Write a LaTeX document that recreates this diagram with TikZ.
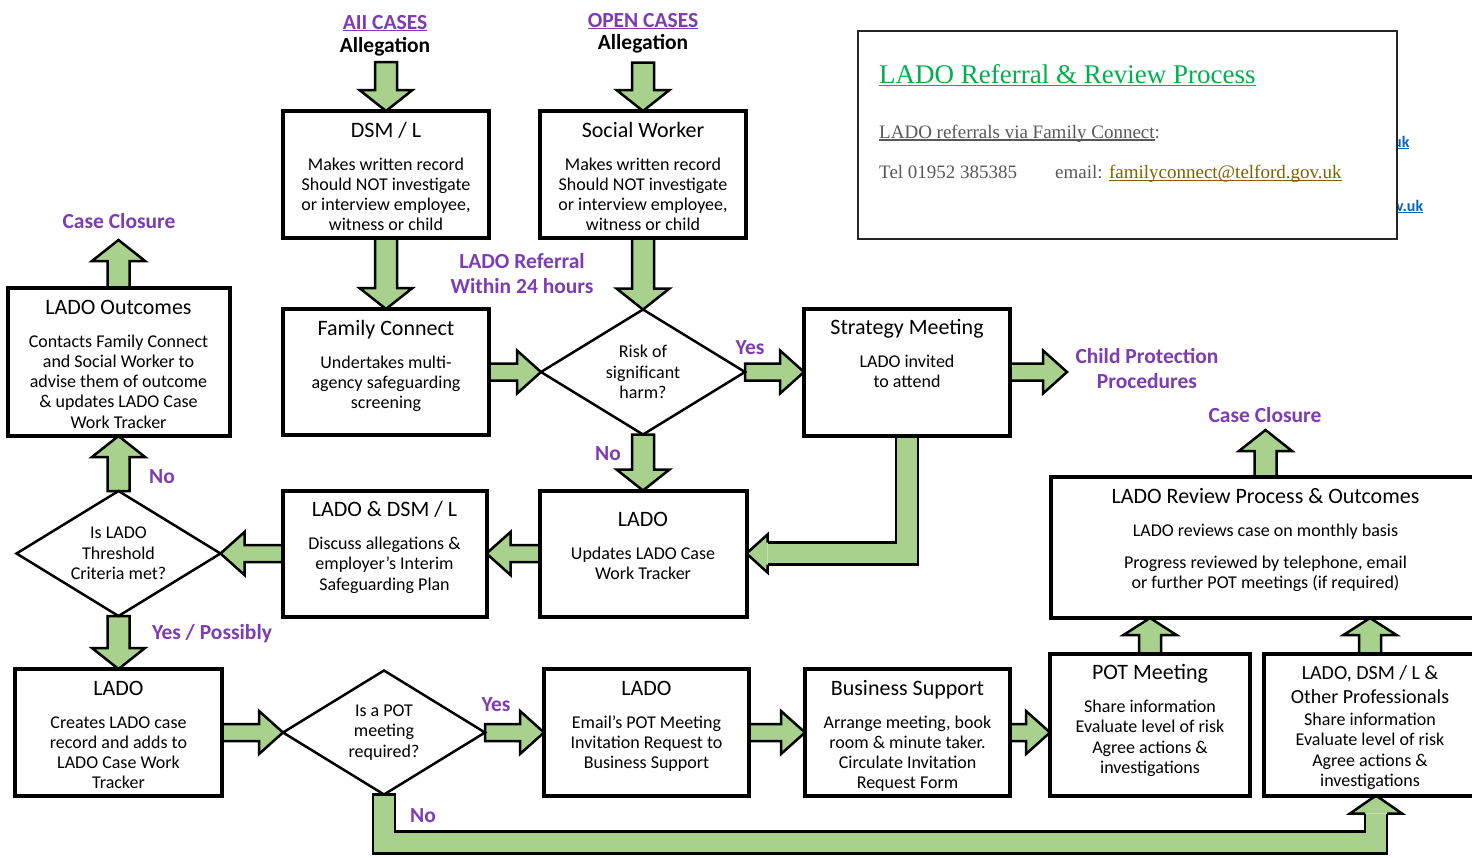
\documentclass[tikz,border=0pt]{standalone}
\usepackage{fontspec}
\setmainfont{Carlito}
\newfontfamily\infofont{Liberation Serif}
\usetikzlibrary{positioning,calc,shapes.geometric,backgrounds}

\definecolor{agreen}{RGB}{169,209,142}
\definecolor{lpurple}{RGB}{125,60,178}
\definecolor{ttlgreen}{RGB}{0,176,80}
\definecolor{infogray}{RGB}{89,89,89}
\definecolor{lnkbrown}{RGB}{128,96,0}
\definecolor{lnkblue}{RGB}{5,99,193}

\newcommand{\ttlfont}{\fontsize{22}{26}\selectfont}
\newcommand{\bdyfont}{\fontsize{18}{20.3}\selectfont}
\newcommand{\qfont}{\fontsize{18}{20.3}\selectfont}
\newcommand{\plfont}{\fontsize{21.5}{25}\selectfont\bfseries}

% box text: [gap] height, width, title, body
\newcommand{\bxt}[5][12.7pt]{\parbox[c][#2][t]{#3}{\centering\rule{0pt}{26pt}{\ttlfont #4\par}\vspace{#1}{\bdyfont #5\par}}}
\newcommand{\undl}[2][2.5pt]{\leavevmode\setbox0=\hbox{#2}\rlap{\rule[-#1]{\wd0}{1.2pt}}\box0}

\tikzstyle{lbox}=[rectangle, draw=black, line width=4pt, fill=white, inner sep=0pt, outer sep=0pt, text=black]
\tikzstyle{qbox}=[diamond, draw=black, line width=2.5pt, fill=white, inner sep=0pt, outer sep=0pt,
                  aspect=1.63, align=center, font=\qfont, minimum width=204pt, minimum height=125pt]
\tikzstyle{plabel}=[text=lpurple, font=\plfont, align=center, inner sep=0pt]
\tikzstyle{alabel}=[text=black, font=\plfont, inner sep=0pt]
\tikzstyle{arrline}=[draw=black, fill=agreen, line width=2.5pt, line join=miter]
\tikzstyle{shaftout}=[draw=black, line width=24.5pt, line join=miter]
\tikzstyle{shaftin}=[draw=agreen, line width=19.5pt, line join=miter]
\tikzstyle{infobox}=[rectangle, draw=black!85, line width=2pt, fill=white, inner sep=0pt, outer sep=0pt]
\tikzstyle{infotext}=[anchor=base west, inner sep=0pt]

% block arrow: from, to, shaft half width, head half width, head length
\newcommand{\barrow}[5]{%
 \coordinate (bhb) at ($(#2)!#5!(#1)$);
 \draw[arrline] ($(#1)!#3!90:(#2)$) -- ($(bhb)!#3!90:(#2)$) -- ($(bhb)!#4!90:(#2)$) -- (#2)
   -- ($(bhb)!#4!-90:(#2)$) -- ($(bhb)!#3!-90:(#2)$) -- ($(#1)!#3!-90:(#2)$) -- cycle;}
\newcommand{\varrow}[2]{\barrow{#1}{#2}{11pt}{26.5pt}{21pt}}
\newcommand{\harrow}[2]{\barrow{#1}{#2}{8.5pt}{21.5pt}{24pt}}
% head only, for the bent arrows: base, tip, shaft half width, head half width
\newcommand{\bhead}[4]{%
 \fill[agreen] ($(#1)!#4!90:(#2)$) -- (#2) -- ($(#1)!#4!-90:(#2)$) -- cycle;
 \draw[line width=2.5pt, line join=miter] ($(#1)!#3!90:(#2)$) -- ($(#1)!#4!90:(#2)$) -- (#2)
   -- ($(#1)!#4!-90:(#2)$) -- ($(#1)!#3!-90:(#2)$);}

\begin{document}
\begin{tikzpicture}[x=1pt,y=-1pt]
\useasboundingbox (0,0) rectangle (1472,857);

\node (DSM) [lbox] at (386,174.5) {\bxt{127pt}{206pt}{DSM / L}{Makes written record\\Should NOT investigate\\or interview employee,\\witness or child}};
\node (SW) [lbox, right=51pt of DSM] {\bxt{127pt}{206pt}{Social Worker}{Makes written record\\Should NOT investigate\\or interview employee,\\witness or child}};
\node (FC) [lbox, below=71pt of DSM] {\bxt{126pt}{206pt}{Family Connect}{Undertakes multi-\\agency safeguarding\\screening}};
\node (RISK) [qbox, right=52pt of FC] {Risk of\\significant\\harm?};
\node (STRAT) [lbox, right=59pt of RISK] {\bxt{127pt}{206pt}{Strategy Meeting}{LADO invited\\to attend}};
\node (LADOU) [lbox, below=56pt of RISK] {\bxt{126pt}{207pt}{\rule{0pt}{36pt}LADO}{Updates LADO Case\\Work Tracker}};
\node (LDSM) [lbox, left=53pt of LADOU] {\bxt{126pt}{204pt}{LADO \& DSM / L}{Discuss allegations \&\\employer’s Interim\\Safeguarding Plan}};
\node (THR) [qbox, left=62pt of LDSM] {Is LADO\\Threshold\\Criteria met?};
\node (OUTC) [lbox, above=55pt of THR] {\bxt{148pt}{222pt}{LADO Outcomes}{Contacts Family Connect\\and Social Worker to\\advise them of outcome\\\& updates LADO Case\\Work Tracker}};
\node (LCRT) [lbox, below=53pt of THR] {\bxt{127pt}{207pt}{LADO}{Creates LADO case\\record and adds to\\LADO Case Work\\Tracker}};
\node (POTQ) [qbox, minimum width=202pt, minimum height=124pt, right=61pt of LCRT] {Is a POT\\meeting\\required?};
\node (LEML) [lbox, right=59pt of POTQ] {\bxt{127pt}{205pt}{LADO}{Email’s POT Meeting\\Invitation Request to\\Business Support}};
\node (BSUP) [lbox, right=56pt of LEML] {\bxt{127pt}{205pt}{Business Support}{Arrange meeting, book\\room \& minute taker.\\Circulate Invitation\\Request Form}};
\node (POTM) [lbox, right=40pt of BSUP, yshift=8pt] {\bxt{142pt}{200pt}{POT Meeting}{Share information\\Evaluate level of risk\\Agree actions \&\\investigations}};
\node (OTHR) [lbox, right=14pt of POTM] {\bxt[1.7pt]{142pt}{212pt}{\fontsize{20}{24}\selectfont LADO, DSM / L \&\\Other Professionals}{Share information\\Evaluate level of risk\\Agree actions \&\\investigations}};
\node (REVW) [lbox] at (1265.5,547.5) {\bxt{141pt}{429pt}{LADO Review Process \& Outcomes}{LADO reviews case on monthly basis\\[12pt]Progress reviewed by telephone, email\\or further POT meetings (if required)}};

% texts
\node (CASES1) [plabel] at (385,23) {\undl[2pt]{AII CASES}};
\node (ALLEG1) [alabel] at (385,47) {Allegation};
\node (CASES2) [plabel] at (643,21) {\undl[2pt]{OPEN CASES}};
\node (ALLEG2) [alabel] at (643,44) {Allegation};
\node (CLOSE1) [plabel] at (119,221) {Case Closure};
\node (REFTXT) [plabel] at (522,273.5) {LADO Referral\\Within 24 hours};
\node (YES1) [plabel] at (750,348) {Yes};
\node (NO1) [plabel] at (608,454) {No};
\node (CPTXT) [plabel] at (1147,368.5) {Child Protection\\Procedures};
\node (CLOSE2) [plabel] at (1265,415) {Case Closure};
\node (NO2) [plabel] at (162,477) {No};
\node (YESP) [plabel] at (212,634) {Yes / Possibly};
\node (YES2) [plabel] at (496,705) {Yes};
\node (NO3) [plabel] at (423,816) {No};

\coordinate [above=49pt of DSM] (ALLEG1B);
\coordinate [above=48.5pt of SW] (ALLEG2B);
\coordinate [right=57pt of STRAT] (CPIN);
\coordinate [above=48pt of OUTC] (CLOSE1B);
\coordinate [above=47pt of REVW] (CLOSE2B);
\coordinate (REVIN1) at (POTM.north |- REVW.south);
\coordinate (REVIN2) at (OTHR.north |- REVW.south);
\coordinate (POTMIN) at (POTM.west |- BSUP.east);

\begin{pgfonlayer}{background}
\varrow{ALLEG1B}{DSM.north}
\varrow{ALLEG2B}{SW.north}
\varrow{DSM.south}{FC.north}
\varrow{SW.south}{RISK.north}
\harrow{FC.east}{RISK.west}
\harrow{RISK.east}{STRAT.west}
\harrow{STRAT.east}{CPIN}
\varrow{RISK.south}{LADOU.north}
\harrow{LADOU.west}{LDSM.east}
\harrow{LDSM.west}{THR.east}
\varrow{THR.north}{OUTC.south}
\varrow{OUTC.north}{CLOSE1B}
\varrow{THR.south}{LCRT.north}
\harrow{LCRT.east}{POTQ.west}
\harrow{POTQ.east}{LEML.west}
\harrow{LEML.east}{BSUP.west}
\harrow{BSUP.east}{POTMIN}
\barrow{POTM.north}{REVIN1}{11pt}{26.5pt}{17pt}
\barrow{OTHR.north}{REVIN2}{11pt}{26.5pt}{17pt}
\varrow{REVW.north}{CLOSE2B}
% strategy meeting back to LADO
\coordinate (SMHB) at ($(LADOU.east)+(21,0)$);
\draw[shaftout] (STRAT.south) |- (SMHB);
\draw[shaftin] (STRAT.south) |- (SMHB);
\bhead{SMHB}{LADOU.east}{11pt}{19pt}
% no POT meeting
\coordinate (NOLOW) at ($(POTQ.south)+(0,48)$);
\coordinate (OTHIN) at ($(OTHR.south)+(6,0)$);
\coordinate (NOHB) at ($(OTHIN)+(0,18)$);
\draw[shaftout] (POTQ.south) -- (NOLOW) -| (NOHB);
\draw[shaftin] (POTQ.south) -- (NOLOW) -| (NOHB);
\draw[line width=2.5pt] ($(POTQ.south)!12.25pt!90:(NOLOW)$) -- ($(POTQ.south)!12.25pt!-90:(NOLOW)$);
\bhead{NOHB}{OTHIN}{11pt}{26pt}
\end{pgfonlayer}

% contact box
\node (FRAG1) [infotext, text=lnkblue, font=\fontsize{16}{18}\selectfont\bfseries] at (1393,147) {\undl[2pt]{uk}};
\node (FRAG2) [infotext, text=lnkblue, font=\fontsize{16}{18}\selectfont\bfseries] at (1396,211) {\undl[2pt]{v.uk}};
\node (INFO) [infobox, minimum width=539pt, minimum height=208pt] at (1127.5,135) {};
\node (INFOT) [infotext, text=ttlgreen, font=\infofont\fontsize{27}{30}\selectfont] at (879,83) {\undl[3pt]{LADO Referral \& Review Process}};
\node (INFOV) [infotext, text=infogray, font=\infofont\fontsize{19}{22}\selectfont] at (879,138) {\undl[2.5pt]{LADO referrals via Family Connect}:};
\node (INFOTEL) [infotext, text=infogray, font=\infofont\fontsize{19}{22}\selectfont] at (879,178) {Tel 01952 385385};
\node (INFOMAIL) [infotext, text=infogray, font=\infofont\fontsize{19}{22}\selectfont] at (1055,178) {email: \textcolor{lnkbrown}{\undl[3pt]{familyconnect@telford.gov.uk}}};

\end{tikzpicture}
\end{document}
